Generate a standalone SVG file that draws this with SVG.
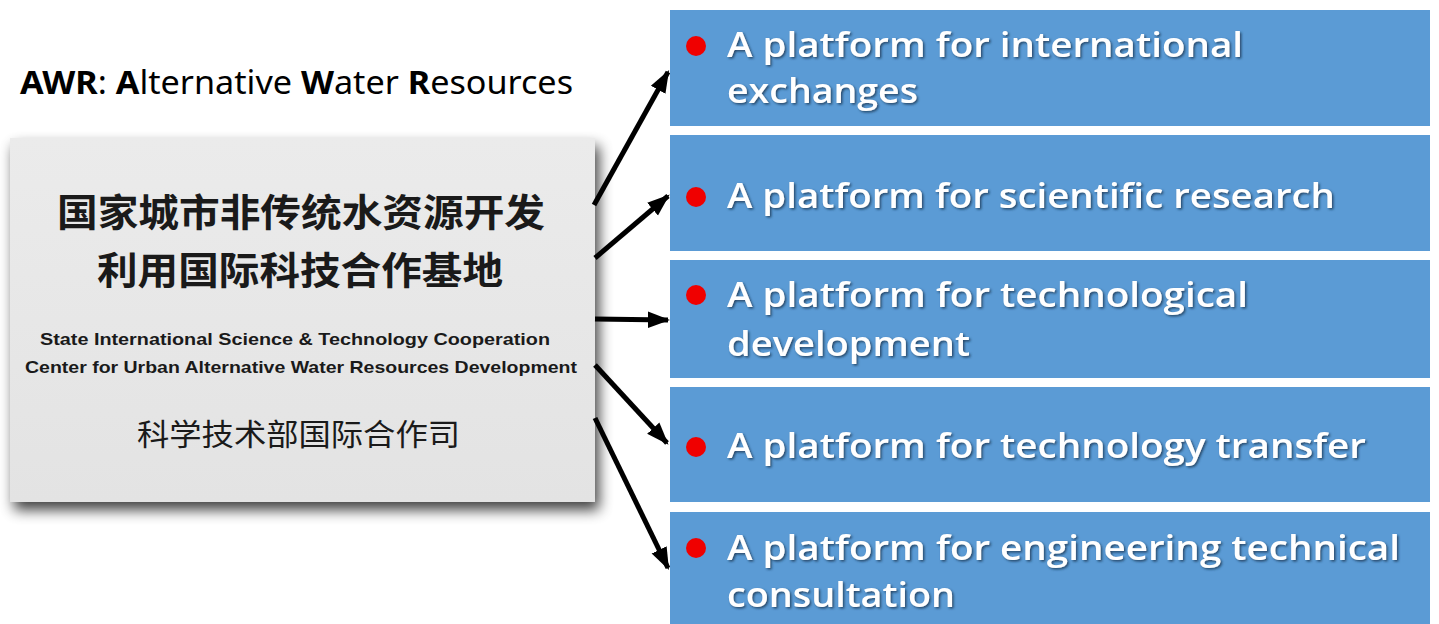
<svg xmlns="http://www.w3.org/2000/svg" width="1439" height="624" viewBox="0 0 1439 624">
  <defs>
    <style>
      .box { fill: #5b9bd5; }
      .bullet { fill: #f00000; }
      .bt { font-family: "Open Sans", "Noto Sans", sans-serif; font-weight: 600; font-size: 34px; fill: #ffffff; }
      .cn { font-family: "Noto Sans CJK SC", sans-serif; font-weight: bold; font-size: 38px; fill: #1a1a1a; }
      .cn2 { font-family: "Noto Sans CJK SC", sans-serif; font-weight: normal; font-size: 30px; fill: #1a1a1a; }
      .en { font-family: "Liberation Sans", Arial, sans-serif; font-weight: bold; font-size: 17px; fill: #1a1a1a; }
      .awr { font-family: "Noto Sans", "Open Sans", sans-serif; font-size: 32px; fill: #000000; }
      .arrow { stroke: #000000; stroke-width: 5; fill: none; marker-end: url(#ah); }
    </style>
    <marker id="ah" viewBox="0 0 10 10" refX="9" refY="5" markerWidth="4.5" markerHeight="4.5" orient="auto" markerUnits="strokeWidth">
      <path d="M0,1.3 L10,5 L0,8.7 z" fill="#000000"/>
    </marker>
    <filter id="ts" x="-5%" y="-20%" width="110%" height="140%">
      <feDropShadow dx="1.5" dy="1.5" stdDeviation="1" flood-color="#1f3550" flood-opacity="0.8"/>
    </filter>
    <filter id="gs" x="-10%" y="-10%" width="125%" height="130%">
      <feGaussianBlur in="SourceAlpha" stdDeviation="7"/>
      <feOffset dx="4" dy="8" result="b"/>
      <feComponentTransfer><feFuncA type="linear" slope="0.75"/></feComponentTransfer>
      <feMerge><feMergeNode/><feMergeNode in="SourceGraphic"/></feMerge>
    </filter>
    <linearGradient id="gg" x1="0" y1="0" x2="0" y2="1">
      <stop offset="0" stop-color="#ebebeb"/>
      <stop offset="1" stop-color="#e3e3e3"/>
    </linearGradient>
  </defs>

  <rect width="1439" height="624" fill="#ffffff"/>

  <g id="awr-title">
    <text class="awr" x="20" y="94" textLength="553" lengthAdjust="spacingAndGlyphs"><tspan font-weight="bold">AWR</tspan>: <tspan font-weight="bold">A</tspan>lternative <tspan font-weight="bold">W</tspan>ater <tspan font-weight="bold">R</tspan>esources</text>
  </g>

  <g id="center-node">
    <rect x="10" y="138" width="585" height="364" fill="url(#gg)" filter="url(#gs)"/>
    <text class="cn" x="57" y="226" textLength="488" lengthAdjust="spacingAndGlyphs">国家城市非传统水资源开发</text>
    <text class="cn" x="97" y="284" textLength="406" lengthAdjust="spacingAndGlyphs">利用国际科技合作基地</text>
    <text class="en" x="40" y="345" textLength="510" lengthAdjust="spacingAndGlyphs">State International Science &amp; Technology Cooperation</text>
    <text class="en" x="25" y="373" textLength="552" lengthAdjust="spacingAndGlyphs">Center for Urban Alternative Water Resources Development</text>
    <text class="cn2" x="137" y="445" textLength="323" lengthAdjust="spacingAndGlyphs">科学技术部国际合作司</text>
  </g>

  <g id="connectors">
    <line class="arrow" x1="594" y1="205" x2="668" y2="72"/>
    <line class="arrow" x1="595" y1="258" x2="668" y2="196"/>
    <line class="arrow" x1="595" y1="319" x2="668" y2="320"/>
    <line class="arrow" x1="595" y1="365" x2="667" y2="443"/>
    <line class="arrow" x1="595" y1="418" x2="668" y2="568"/>
  </g>

  <g id="platform-1">
    <rect class="box" x="670" y="10" width="760" height="116"/>
    <circle class="bullet" cx="696" cy="46" r="10"/>
    <g filter="url(#ts)">
      <text class="bt" x="727" y="57" textLength="516" lengthAdjust="spacingAndGlyphs">A platform for international</text>
      <text class="bt" x="727" y="103" textLength="191" lengthAdjust="spacingAndGlyphs">exchanges</text>
    </g>
  </g>

  <g id="platform-2">
    <rect class="box" x="670" y="135" width="760" height="116"/>
    <circle class="bullet" cx="696" cy="197" r="10"/>
    <g filter="url(#ts)">
      <text class="bt" x="727" y="208" textLength="608" lengthAdjust="spacingAndGlyphs">A platform for scientific research</text>
    </g>
  </g>

  <g id="platform-3">
    <rect class="box" x="670" y="260" width="760" height="118"/>
    <circle class="bullet" cx="696" cy="295" r="10"/>
    <g filter="url(#ts)">
      <text class="bt" x="727" y="307" textLength="521" lengthAdjust="spacingAndGlyphs">A platform for technological</text>
      <text class="bt" x="727" y="356" textLength="243" lengthAdjust="spacingAndGlyphs">development</text>
    </g>
  </g>

  <g id="platform-4">
    <rect class="box" x="670" y="387" width="760" height="115"/>
    <circle class="bullet" cx="696" cy="447" r="10"/>
    <g filter="url(#ts)">
      <text class="bt" x="727" y="458" textLength="639" lengthAdjust="spacingAndGlyphs">A platform for technology transfer</text>
    </g>
  </g>

  <g id="platform-5">
    <rect class="box" x="670" y="512" width="760" height="120"/>
    <circle class="bullet" cx="696" cy="548" r="10"/>
    <g filter="url(#ts)">
      <text class="bt" x="727" y="560" textLength="673" lengthAdjust="spacingAndGlyphs">A platform for engineering technical</text>
      <text class="bt" x="727" y="607" textLength="228" lengthAdjust="spacingAndGlyphs">consultation</text>
    </g>
  </g>
</svg>
